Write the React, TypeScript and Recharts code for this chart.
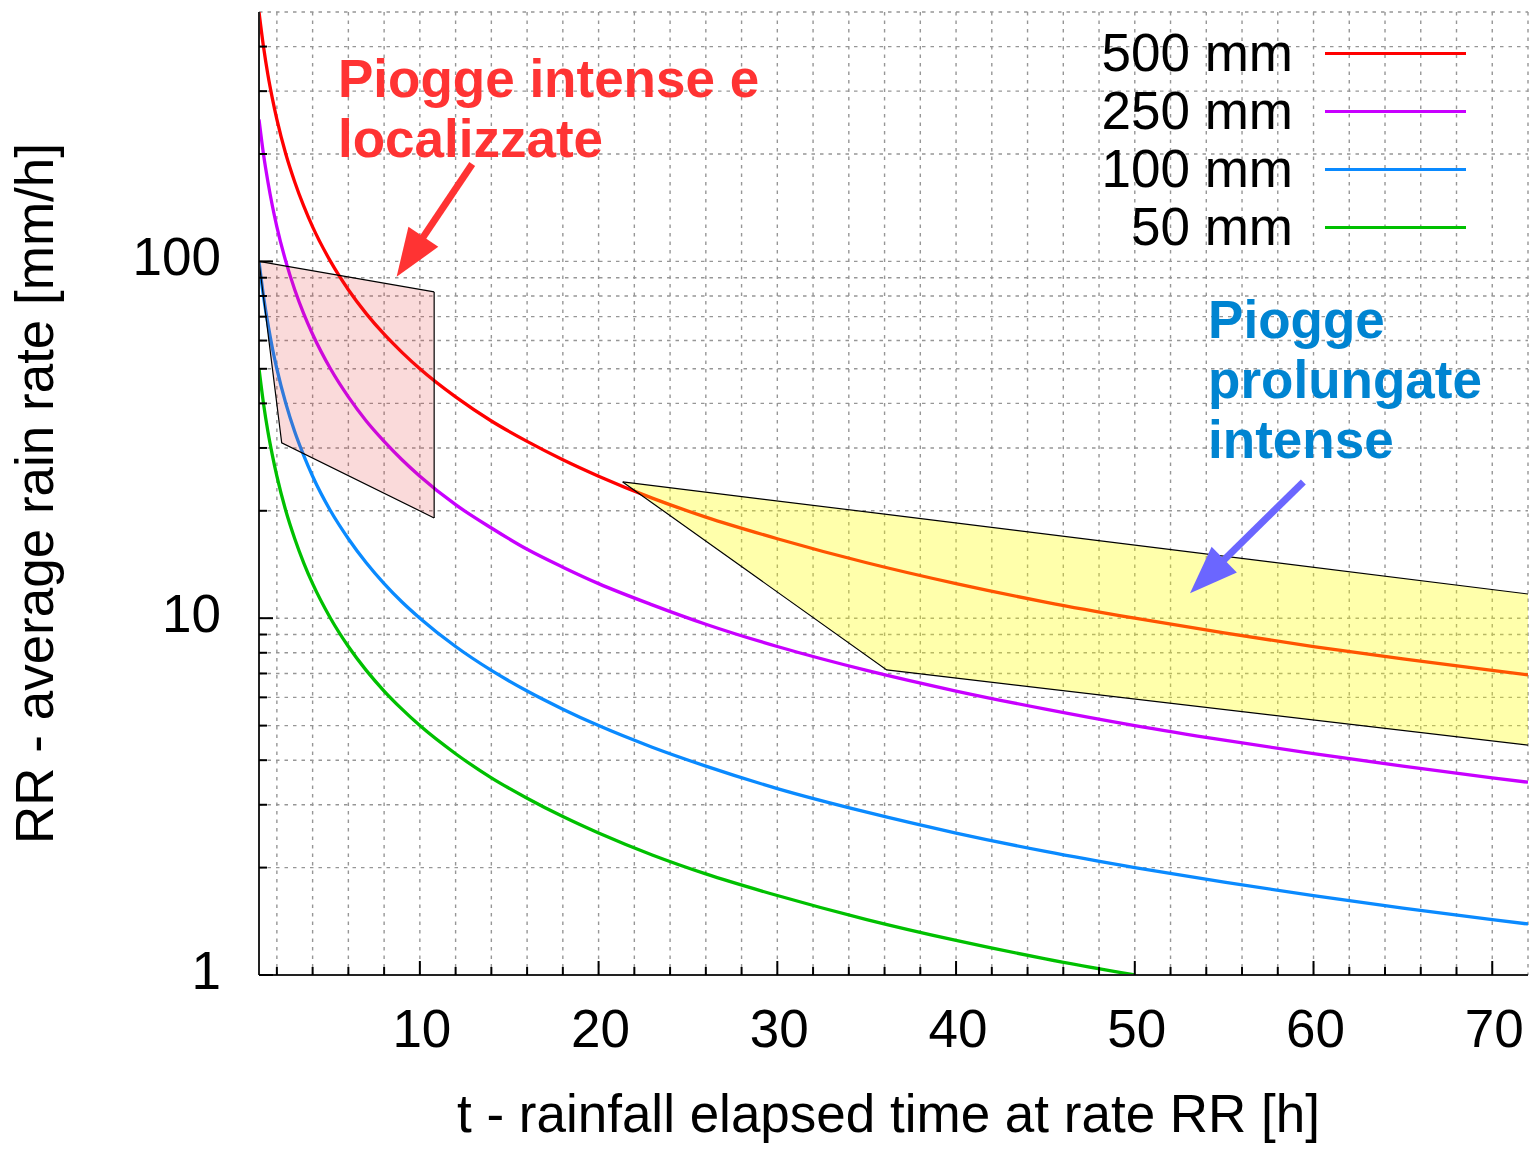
import React from 'react';
import {
  ComposedChart,
  Line,
  Area,
  XAxis,
  YAxis,
  CartesianGrid,
  ReferenceLine,
  ReferenceDot,
  Legend,
} from 'recharts';

const FONT = '"Liberation Sans", Arial, Helvetica, sans-serif';

// Elapsed time (h) at which the curves are sampled
const tHours = [1, 1.25, 1.5, 1.75, 2, 2.5, 3, 3.5, 4, 5, 6, 7, 8, 9, 10, 12, 14, 16, 18, 20, 23, 26, 30, 35, 40, 45, 50, 55, 60, 65, 70, 72];

// Average rain rate (mm/h) for each cumulated rainfall
const rr500 = [500, 400, 333, 286, 250, 200, 167, 143, 125, 100, 83.3, 71.4, 62.5, 55.6, 50, 41.7, 35.7, 31.3, 27.8, 25, 21.7, 19.2, 16.7, 14.3, 12.5, 11.1, 10, 9.09, 8.33, 7.69, 7.14, 6.94];
const rr250 = [250, 200, 167, 143, 125, 100, 83.3, 71.4, 62.5, 50, 41.7, 35.7, 31.3, 27.8, 25, 20.8, 17.9, 15.6, 13.9, 12.5, 10.9, 9.62, 8.33, 7.14, 6.25, 5.56, 5, 4.55, 4.17, 3.85, 3.57, 3.47];
const rr100 = [100, 80, 66.7, 57.1, 50, 40, 33.3, 28.6, 25, 20, 16.7, 14.3, 12.5, 11.1, 10, 8.33, 7.14, 6.25, 5.56, 5, 4.35, 3.85, 3.33, 2.86, 2.5, 2.22, 2, 1.82, 1.67, 1.54, 1.43, 1.39];
const rr50 = [50, 40, 33.3, 28.6, 25, 20, 16.7, 14.3, 12.5, 10, 8.33, 7.14, 6.25, 5.56, 5, 4.17, 3.57, 3.13, 2.78, 2.5, 2.17, 1.92, 1.67, 1.43, 1.25, 1.11, 1];

const seriesNames = ['500 mm', '250 mm', '100 mm', '50 mm'];
const seriesColors = ['#ff0000', '#c800ff', '#0a8aff', '#00c000'];

// "intense and localized" zone: vertices along time, lower and upper rate
const localZoneT = [1, 2.27, 10.8];
const localZoneLow = [100, 31, 19.1];
const localZoneHigh = [100, 97.5, 82.1];

// "prolonged intense" zone
const longZoneT = [21.35, 36.12, 72];
const longZoneLow = [24.1, 7.16, 4.41];
const longZoneHigh = [24.1, 19.54, 11.69];

// Axis ticks
const xTicks = [2, 4, 6, 8, 10, 12, 14, 16, 18, 20, 22, 24, 26, 28, 30, 32, 34, 36, 38, 40, 42, 44, 46, 48, 50, 52, 54, 56, 58, 60, 62, 64, 66, 68, 70];
const xLabels = [10, 20, 30, 40, 50, 60, 70];
const yTicks = [1, 2, 3, 4, 5, 6, 7, 8, 9, 10, 20, 30, 40, 50, 60, 70, 80, 90, 100, 200, 300, 400];
const yLabels = [1, 10, 100];

// Annotation anchors (data units)
const noteLocal = { t: 5.42, rr: 288.4, lines: ['Piogge intense e', 'localizzate'] };
const noteLong = { t: 54.1, rr: 60.9, lines: ['Piogge', 'prolungate', 'intense'] };
const arrowLocal = { from: { t: 12.93, rr: 187.5 }, to: { t: 8.7, rr: 90.6 } };
const arrowLong = { from: { t: 59.43, rr: 24.1 }, to: { t: 53.09, rr: 11.74 } };

const NOTE_RED = '#ff3333';
const NOTE_BLUE = '#0084d1';
const ARROW_BLUE = '#6b66ff';

const toPoints = (vals: number[]) => vals.map((v, i) => ({ t: tHours[i], rr: v }));
const seriesData = [toPoints(rr500), toPoints(rr250), toPoints(rr100), toPoints(rr50)];

const toBand = (ts: number[], lo: number[], hi: number[]) =>
  ts.map((t, i) => ({ t, band: [lo[i], hi[i]] }));
const localZone = toBand(localZoneT, localZoneLow, localZoneHigh);
const longZone = toBand(longZoneT, longZoneLow, longZoneHigh);

const FS = 53;
const MAJOR_LEN = 14;
const MINOR_LEN = 8;
const TICK_STROKE = '#000';

const BottomTick = (p: any) => {
  const major = xLabels.includes(p.payload.value);
  return (
    <g>
      <line x1={p.x} x2={p.x} y1={p.y} y2={p.y - (major ? MAJOR_LEN : MINOR_LEN)} stroke={TICK_STROKE} strokeWidth={2} />
      {major && (
        <text x={p.x + 2} y={p.y + 72} textAnchor="middle" fontFamily={FONT} fontSize={FS} fill="#000">
          {p.payload.value}
        </text>
      )}
    </g>
  );
};

const TopTick = (p: any) => {
  const major = xLabels.includes(p.payload.value);
  return (
    <line x1={p.x} x2={p.x} y1={p.y} y2={p.y + (major ? MAJOR_LEN : MINOR_LEN)} stroke={TICK_STROKE} strokeWidth={2} />
  );
};

const LeftTick = (p: any) => {
  const major = yLabels.includes(p.payload.value);
  return (
    <g>
      <line x1={p.x} x2={p.x + (major ? MAJOR_LEN : MINOR_LEN)} y1={p.y} y2={p.y} stroke={TICK_STROKE} strokeWidth={2} />
      {major && (
        <text x={p.x - 38} y={p.y + 14} textAnchor="end" fontFamily={FONT} fontSize={FS} fill="#000">
          {p.payload.value}
        </text>
      )}
    </g>
  );
};

const RightTick = (p: any) => {
  const major = yLabels.includes(p.payload.value);
  return (
    <line x1={p.x} x2={p.x - (major ? MAJOR_LEN : MINOR_LEN)} y1={p.y} y2={p.y} stroke={TICK_STROKE} strokeWidth={2} />
  );
};

const makeArrow = (color: string) => (p: any) => {
  const x1 = Number(p.x1), y1 = Number(p.y1), x2 = Number(p.x2), y2 = Number(p.y2);
  const dx = x2 - x1, dy = y2 - y1;
  const len = Math.hypot(dx, dy) || 1;
  const ux = dx / len, uy = dy / len;
  const headLen = 48, headHalf = 18;
  const bx = x2 - ux * headLen, by = y2 - uy * headLen;
  const nx = -uy * headHalf, ny = ux * headHalf;
  return (
    <g>
      <line x1={x1} y1={y1} x2={bx + ux * 4} y2={by + uy * 4} stroke={color} strokeWidth={7} />
      <polygon points={`${x2},${y2} ${bx + nx},${by + ny} ${bx - nx},${by - ny}`} fill={color} />
    </g>
  );
};

const makeNote = (lines: string[], color: string) => (p: any) => (
  <text x={p.cx} y={p.cy} fill={color} fontFamily={FONT} fontWeight="bold" fontSize={FS}>
    {lines.map((s, i) => (
      <tspan key={i} x={p.cx} dy={i === 0 ? 0 : 60}>
        {s}
      </tspan>
    ))}
  </text>
);

const YTitle = (p: any) => {
  const vb = p.viewBox;
  const cx = vb.x + 53;
  const cy = vb.y + vb.height / 2;
  return (
    <text x={cx} y={cy} transform={`rotate(-90 ${cx} ${cy})`} textAnchor="middle" fontFamily={FONT} fontSize={FS} fill="#000">
      RR - average rain rate [mm/h]
    </text>
  );
};

const XTitle = (p: any) => {
  const vb = p.viewBox;
  const cx = vb.x + vb.width / 2 - 5;
  return (
    <text x={cx} y={vb.y + 157} textAnchor="middle" fontFamily={FONT} fontSize={FS} fill="#000">
      t - rainfall elapsed time at rate RR [h]
    </text>
  );
};

const LegendBox = (props: any) => {
  const items = (props.payload || [])
    .filter((it: any) => seriesNames.includes(it.value))
    .sort((a: any, b: any) => seriesNames.indexOf(a.value) - seriesNames.indexOf(b.value));
  return (
    <div style={{ fontFamily: FONT, fontSize: FS, color: '#000' }}>
      {items.map((it: any) => (
        <div key={it.value} style={{ display: 'flex', alignItems: 'center', height: 58 }}>
          <span style={{ width: 233, textAlign: 'right', lineHeight: '58px', whiteSpace: 'nowrap' }}>{it.value}</span>
          <span style={{ marginLeft: 32, width: 141, height: 3, background: it.color, display: 'inline-block' }} />
        </div>
      ))}
    </div>
  );
};

export default function App() {
  return (
    <div style={{ position: 'absolute', left: 0, top: 0, width: 1537, height: 1152, background: '#fff' }}>
      <ComposedChart width={1537} height={1152} margin={{ top: 12, right: 9, bottom: 0, left: 0 }}>
        <CartesianGrid stroke="#969696" strokeWidth={1.4} strokeDasharray="3.5 5" />
        <XAxis
          type="number"
          dataKey="t"
          domain={[1, 72]}
          allowDataOverflow
          ticks={xTicks}
          interval={0}
          tickSize={0}
          tickMargin={0}
          tickLine={false}
          tick={BottomTick}
          axisLine={{ stroke: '#222', strokeWidth: 2 }}
          height={177}
          label={{ content: XTitle }}
        />
        <XAxis
          xAxisId="top"
          orientation="top"
          type="number"
          dataKey="t"
          domain={[1, 72]}
          allowDataOverflow
          ticks={xTicks}
          interval={0}
          tickSize={0}
          tickMargin={0}
          tickLine={false}
          tick={TopTick}
          axisLine={{ stroke: '#222', strokeWidth: 2 }}
          height={0}
        />
        <YAxis
          type="number"
          scale="log"
          domain={[1, 500]}
          allowDataOverflow
          ticks={yTicks}
          interval={0}
          tickSize={0}
          tickMargin={0}
          tickLine={false}
          tick={LeftTick}
          axisLine={{ stroke: '#222', strokeWidth: 2 }}
          width={259}
          label={{ content: YTitle }}
        />
        <YAxis
          yAxisId="right"
          orientation="right"
          type="number"
          scale="log"
          domain={[1, 500]}
          allowDataOverflow
          ticks={yTicks}
          interval={0}
          tickSize={0}
          tickMargin={0}
          tickLine={false}
          tick={RightTick}
          axisLine={{ stroke: '#222', strokeWidth: 2 }}
          width={0}
        />

        {seriesData.map((d, i) => (
          <Line
            key={seriesNames[i]}
            data={d}
            dataKey="rr"
            name={seriesNames[i]}
            type="monotone"
            stroke={seriesColors[i]}
            strokeWidth={3.3}
            dot={false}
            activeDot={false}
            isAnimationActive={false}
          />
        ))}

        <Area
          data={localZone}
          dataKey="band"
          type="linear"
          fill="#e63232"
          fillOpacity={0.18}
          stroke="#000"
          strokeWidth={1.2}
          legendType="none"
          dot={false}
          activeDot={false}
          isAnimationActive={false}
          zIndex={450}
        />
        <Area
          data={longZone}
          dataKey="band"
          type="linear"
          fill="#ffff00"
          fillOpacity={0.33}
          stroke="#000"
          strokeWidth={1.2}
          legendType="none"
          dot={false}
          activeDot={false}
          isAnimationActive={false}
          zIndex={450}
        />
        <ReferenceLine
          segment={[
            { x: localZoneT[2], y: localZoneLow[2] },
            { x: localZoneT[2], y: localZoneHigh[2] },
          ]}
          stroke="#000"
          strokeWidth={1.2}
          zIndex={460}
        />

        <ReferenceLine
          segment={[
            { x: arrowLocal.from.t, y: arrowLocal.from.rr },
            { x: arrowLocal.to.t, y: arrowLocal.to.rr },
          ]}
          shape={makeArrow(NOTE_RED)}
          ifOverflow="visible"
          zIndex={700}
        />
        <ReferenceLine
          segment={[
            { x: arrowLong.from.t, y: arrowLong.from.rr },
            { x: arrowLong.to.t, y: arrowLong.to.rr },
          ]}
          shape={makeArrow(ARROW_BLUE)}
          ifOverflow="visible"
          zIndex={700}
        />
        <ReferenceDot
          x={noteLocal.t}
          y={noteLocal.rr}
          r={0}
          shape={makeNote(noteLocal.lines, NOTE_RED)}
          ifOverflow="visible"
          zIndex={700}
        />
        <ReferenceDot
          x={noteLong.t}
          y={noteLong.rr}
          r={0}
          shape={makeNote(noteLong.lines, NOTE_BLUE)}
          ifOverflow="visible"
          zIndex={700}
        />

        <Legend
          layout="horizontal"
          verticalAlign="middle"
          align="center"
          content={LegendBox}
          wrapperStyle={{ top: 24, left: 1060, width: 420, height: 240 }}
        />
      </ComposedChart>
    </div>
  );
}
